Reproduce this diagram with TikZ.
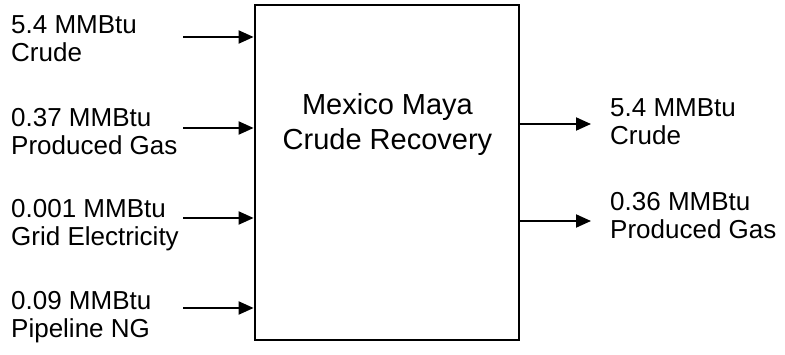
\documentclass[tikz,border=0pt]{standalone}
\usepackage{fontspec}
\setmainfont{Liberation Sans}
\usetikzlibrary{arrows.meta}
\begin{document}
\begin{tikzpicture}[x=1pt,y=-1pt,
  lbl/.style={anchor=north west,inner sep=0pt,align=left,font=\fontsize{26}{28}\selectfont},
  flow/.style={line width=2pt,-{Triangle[length=15pt,width=13pt]}},
  procbox/.style={draw,line width=2.8pt,minimum width=264pt,minimum height=335pt,inner sep=0pt}]
\useasboundingbox (0,0) rectangle (785,355);
\node[procbox] (box) at (387,172.5) {};
\node[anchor=north,inner sep=0pt,align=center,font=\fontsize{29}{35}\selectfont] (title) at (387.5,93) {Mexico Maya\\Crude Recovery};
% input labels
\node[lbl] (l1) at (11,15) {5.4 MMBtu\\Crude};
\node[lbl] (l2) at (11,108) {0.37 MMBtu\\Produced Gas};
\node[lbl] (l3) at (11,199) {0.001 MMBtu\\Grid Electricity};
\node[lbl] (l4) at (11,291) {0.09 MMBtu\\Pipeline NG};
% output labels
\node[lbl] (r1) at (610,98) {5.4 MMBtu\\Crude};
\node[lbl] (r2) at (610,192) {0.36 MMBtu\\Produced Gas};
% arrow free ends
\coordinate (i1) at (183,37);
\coordinate (i2) at (183,128);
\coordinate (i3) at (183,218);
\coordinate (i4) at (183,308);
\coordinate (o1) at (591,124);
\coordinate (o2) at (591,221);
\draw[flow] (i1) -- (i1 -| box.west);
\draw[flow] (i2) -- (i2 -| box.west);
\draw[flow] (i3) -- (i3 -| box.west);
\draw[flow] (i4) -- (i4 -| box.west);
\draw[flow] (o1 -| box.east) -- (o1);
\draw[flow] (o2 -| box.east) -- (o2);
\end{tikzpicture}
\end{document}
